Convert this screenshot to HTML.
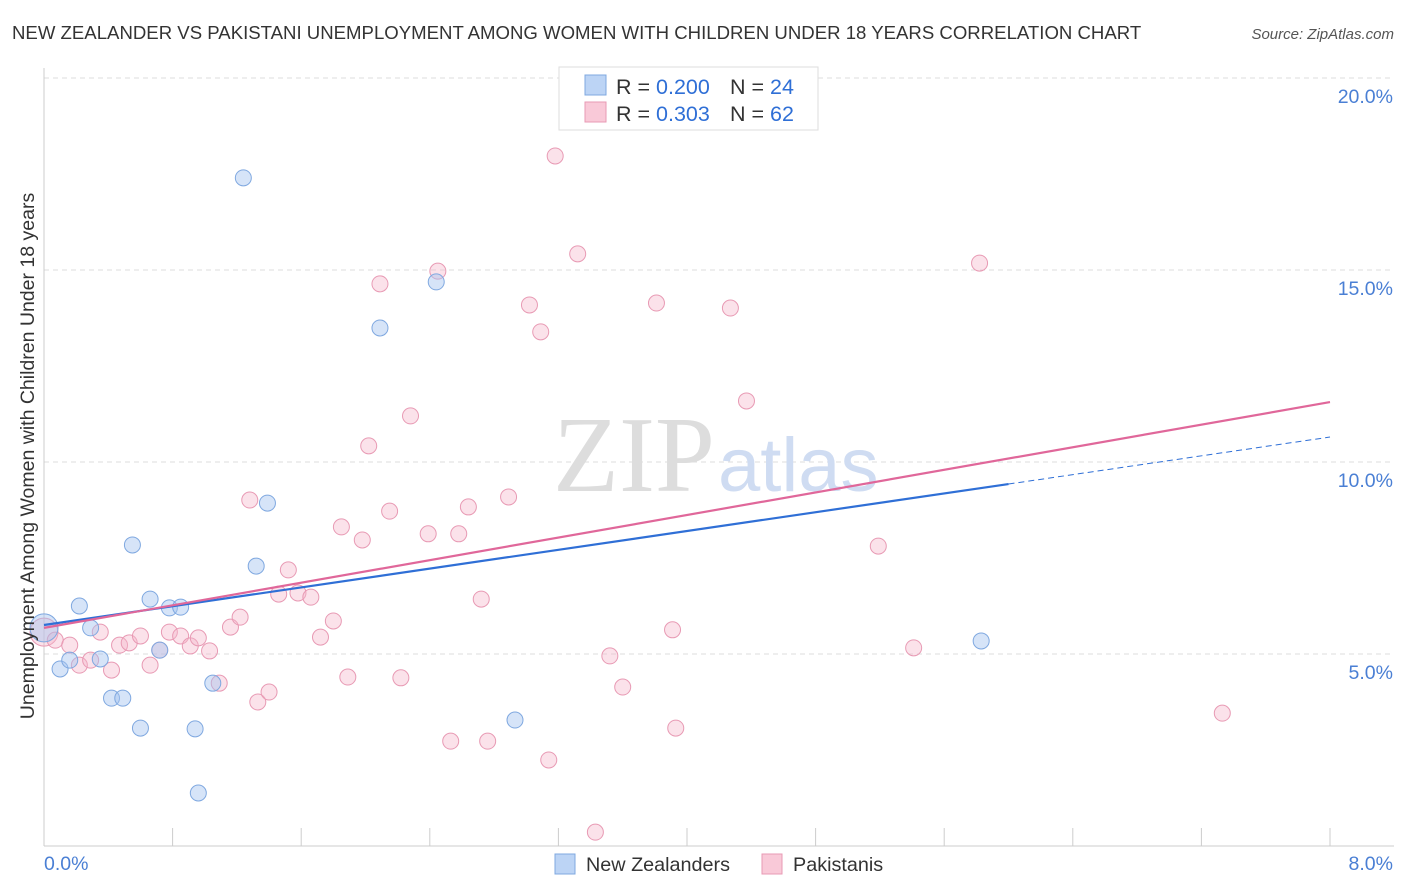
<!DOCTYPE html>
<html><head><meta charset="utf-8"><style>
body{margin:0;background:#fff;font-family:"Liberation Sans",sans-serif;}
svg{display:block}
</style></head><body>
<svg id="chart" width="1406" height="892" xmlns="http://www.w3.org/2000/svg">
<text x="12" y="39" font-size="18.6" fill="#333">NEW ZEALANDER VS PAKISTANI UNEMPLOYMENT AMONG WOMEN WITH CHILDREN UNDER 18 YEARS CORRELATION CHART</text>
<text x="1394" y="39" font-size="15" fill="#555" text-anchor="end" font-style="italic">Source: ZipAtlas.com</text>
<g id="grid"></g>
<g><text x="553" y="491" font-size="108" fill="#ddd" font-family="Liberation Serif,serif">ZIP</text><text x="718" y="491" font-size="76" fill="#cfdcf2">atlas</text></g>
<g id="points"></g>
<g id="lines"></g>
<text transform="translate(34,456) rotate(-90)" font-size="19.5" fill="#333" text-anchor="middle">Unemployment Among Women with Children Under 18 years</text>
<g>
<rect x="559" y="67" width="259" height="63" fill="#fff" stroke="#ddd"/>
<rect x="585" y="75" width="21" height="20" fill="#bcd4f5" stroke="#7fa8e0"/>
<rect x="585" y="102" width="21" height="20" fill="#f9c9d8" stroke="#e89ab4"/>
<text x="616" y="94" font-size="21.5" fill="#333">R = <tspan fill="#2f6fd6">0.200</tspan><tspan x="730">N = </tspan><tspan fill="#2f6fd6">24</tspan></text>
<text x="616" y="121" font-size="21.5" fill="#333">R = <tspan fill="#2f6fd6"> 0.303</tspan><tspan x="730">N = </tspan><tspan fill="#2f6fd6">62</tspan></text>
</g>
<g>
<rect x="555" y="854" width="20" height="20" fill="#bcd4f5" stroke="#7fa8e0"/>
<text x="586" y="871" font-size="19.8" fill="#333">New Zealanders</text>
<rect x="762" y="854" width="20" height="20" fill="#f9c9d8" stroke="#e89ab4"/>
<text x="793" y="871" font-size="19.8" fill="#333">Pakistanis</text>
</g>
</svg>
<script>
const yTicks=[5,10,15,20];
const yTickLabels=["5.0%","10.0%","15.0%","20.0%"];
const xTickLabels=["0.0%","8.0%"];
const nzX=[0,0.10,0.16,0.22,0.29,0.35,0.42,0.49,0.55,0.60,0.66,0.72,0.78,0.85,0.94,0.96,1.05,1.24,1.32,1.39,2.09,2.44,2.93,5.83];
const nzY=[5.68,4.61,4.84,6.25,5.68,4.87,3.85,3.85,7.84,3.07,6.43,5.10,6.20,6.22,3.05,1.38,4.24,17.40,7.29,8.93,13.49,14.69,3.28,5.34];
const pkX=[0,0.07,0.16,0.22,0.29,0.35,0.42,0.47,0.53,0.60,0.66,0.72,0.78,0.85,0.91,0.96,1.03,1.09,1.16,1.22,1.28,1.33,1.40,1.46,1.52,1.58,1.66,1.72,1.80,1.85,1.89,1.98,2.02,2.09,2.15,2.22,2.28,2.39,2.45,2.53,2.58,2.64,2.72,2.76,2.89,3.02,3.09,3.14,3.18,3.32,3.43,3.52,3.60,3.81,3.91,3.93,4.27,4.37,5.19,5.41,5.82,7.33];
const pkY=[5.57,5.36,5.23,4.71,4.84,5.57,4.58,5.23,5.29,5.47,4.71,5.10,5.57,5.47,5.21,5.42,5.08,4.24,5.70,5.96,9.01,3.75,4.01,6.56,7.19,6.59,6.48,5.44,5.86,8.31,4.40,7.97,10.42,14.64,8.72,4.38,11.20,8.13,14.97,2.73,8.13,8.83,6.43,2.73,9.09,14.09,13.39,2.24,17.97,15.42,0.36,4.95,4.14,14.14,5.63,3.07,14.01,11.59,7.81,5.16,15.18,3.46];
const nzTrend=[5.755,10.65];
const pkTrend=[5.68,11.56];
const NS="http://www.w3.org/2000/svg";
const X=v=>44+v*160.75, Y=v=>846-v*38.4;
function mk(t,a,p){const e=document.createElementNS(NS,t);for(const k in a)e.setAttribute(k,a[k]);p.appendChild(e);return e;}
const grid=document.getElementById('grid');
yTicks.forEach((t,i)=>{
 const l=mk('line',{x1:44,x2:1394,y1:Y(t),y2:Y(t),stroke:'#ddd','stroke-dasharray':'5,4'},grid);
 
 
 const tx=mk('text',{x:1393,y:Y(t)+25,'font-size':19.5,fill:'#4a7fd4','text-anchor':'end'},grid);
 tx.textContent=yTickLabels[i];
 
 
});
mk('line',{x1:44,x2:44,y1:68,y2:846,stroke:'#ccc'},grid);
mk('line',{x1:44,x2:1394,y1:846,y2:846,stroke:'#ccc'},grid);
for(let i=0;i<=10;i++){mk('line',{x1:X(i*0.8),x2:X(i*0.8),y1:828,y2:846,stroke:'#ccc'},grid);}
[0,8].forEach((v,i)=>{const tx=mk('text',{x:i?1393:44,y:870,'font-size':19.5,fill:'#4a7fd4','text-anchor':i?'end':'start'},grid);
 tx.textContent=xTickLabels[i];
 
 });
const pts=document.getElementById('points');
pkX.forEach((x,i)=>{const c=mk('circle',{cx:X(x),cy:Y(pkY[i]),r:i==0?14:8,fill:'rgba(246,182,202,0.4)',stroke:'#e89ab4','stroke-width':1},pts);
 
 });
nzX.forEach((x,i)=>{const c=mk('circle',{cx:X(x),cy:Y(nzY[i]),r:i==0?14:8,fill:'rgba(165,196,240,0.45)',stroke:'#7fa8e0','stroke-width':1},pts);
 
 });
const ln=document.getElementById('lines');
const yb=x=>nzTrend[0]+(nzTrend[1]-nzTrend[0])*x/8;
let a=mk('line',{x1:X(0),y1:Y(yb(0)),x2:X(6),y2:Y(yb(6)),stroke:'#2f6fd6','stroke-width':2.2},ln);


a=mk('line',{x1:X(6),y1:Y(yb(6)),x2:X(8),y2:Y(yb(8)),stroke:'#2f6fd6','stroke-width':1,'stroke-dasharray':'6,4'},ln);


a=mk('line',{x1:X(0),y1:Y(pkTrend[0]),x2:X(8),y2:Y(pkTrend[1]),stroke:'#e0679a','stroke-width':2.2},ln);


</script>
</body></html>
